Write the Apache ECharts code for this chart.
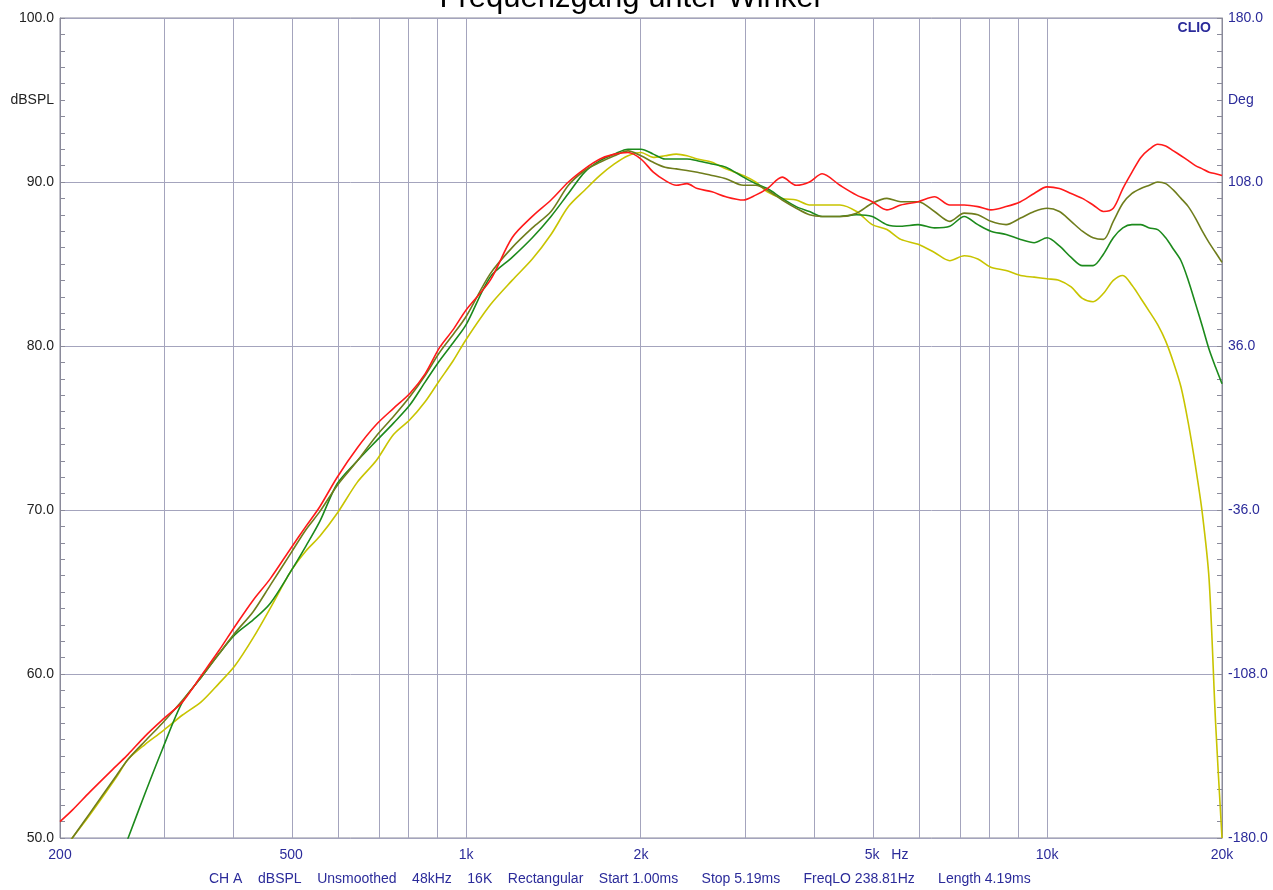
<!DOCTYPE html>
<html>
<head>
<meta charset="utf-8">
<script src="https://cdn.jsdelivr.net/npm/echarts@6/dist/echarts.min.js"></script>
<style>
  html, body { margin: 0; padding: 0; background: #fff; }
  #chart-container { width: 1273px; height: 890px; }
</style>
</head>
<body>
<div id="chart-container"></div>
<script>
// frequency grid (Hz) the curves were read at
const freqs = [200,210,225,250,262,280,300,325,350,375,
  400,430,460,500,530,560,600,650,700,750,
  800,850,900,950,1000,1100,1200,1300,1400,1500,
  1600,1700,1800,1900,2000,2100,2200,2300,2400,2500,
  2650,2800,3000,3150,3300,3500,3700,3900,4100,4400,
  4700,5000,5300,5600,6000,6400,6800,7200,7600,8000,
  8500,9000,9500,10000,10500,11000,11500,12000,12500,13000,
  13500,14000,14500,15000,15500,16000,16500,17000,17500,18000,
  18500,19000,19500,20000];

const redDb = [51.0,51.7,52.8,54.4,55.1,56.2,57.2,58.3,59.9,61.4,
  62.9,64.5,65.8,67.7,69.0,70.2,72.0,73.8,75.2,76.2,
  77.1,78.3,79.9,81.0,82.2,84.0,86.6,87.9,88.9,90.0,
  90.8,91.4,91.7,91.8,91.4,90.6,90.1,89.8,89.9,89.6,
  89.4,89.1,88.9,89.2,89.6,90.3,89.8,90.0,90.5,89.8,
  89.2,88.8,88.3,88.6,88.8,89.1,88.6,88.6,88.5,88.3,
  88.5,88.8,89.3,89.7,89.6,89.3,89.0,88.6,88.2,88.4,
  89.6,90.6,91.5,92.0,92.3,92.2,91.9,91.6,91.3,91.0,
  90.8,90.6,90.5,90.4];

const oliveDb = [49.0,50.0,51.5,53.8,54.8,55.9,57.0,58.4,59.8,61.2,
  62.5,63.8,65.4,67.4,68.8,69.9,71.5,73.0,74.5,75.7,
  76.9,78.2,79.6,80.7,81.8,84.4,86.0,87.2,88.2,89.8,
  90.7,91.2,91.6,91.9,91.6,91.2,90.9,90.8,90.7,90.6,
  90.4,90.2,89.8,89.8,89.5,88.9,88.4,88.0,87.9,87.9,
  88.1,88.7,89.0,88.8,88.8,88.2,87.6,88.1,88.0,87.6,
  87.4,87.8,88.2,88.4,88.2,87.6,87.0,86.6,86.5,87.6,
  88.7,89.3,89.6,89.8,90.0,89.9,89.5,89.0,88.5,87.8,
  87.0,86.3,85.7,85.1];

const greenDb = [null,null,null,48.1,50.0,52.7,55.4,58.3,59.8,61.2,
  62.4,63.3,64.3,66.3,67.8,69.3,71.6,73.0,74.2,75.3,
  76.4,77.8,79.1,80.2,81.3,84.2,85.4,86.6,87.9,89.3,
  90.6,91.3,91.7,92.0,92.0,91.7,91.4,91.4,91.4,91.3,
  91.1,90.9,90.3,89.9,89.6,89.0,88.5,88.2,87.9,87.9,
  88.0,87.9,87.4,87.3,87.4,87.2,87.3,87.9,87.4,87.0,
  86.8,86.5,86.3,86.6,86.1,85.4,84.9,84.9,85.6,86.6,
  87.2,87.4,87.4,87.2,87.1,86.6,85.9,85.2,84.0,82.6,
  81.2,79.8,78.7,77.7];

const yellowDb = [49.0,50.0,51.4,53.7,54.8,55.7,56.5,57.5,58.3,59.4,
  60.5,62.2,64.0,66.3,67.5,68.4,69.8,71.7,73.0,74.6,
  75.5,76.6,77.9,79.1,80.4,82.5,84.0,85.3,86.8,88.5,
  89.5,90.4,91.1,91.6,91.8,91.5,91.6,91.7,91.6,91.4,
  91.2,90.8,90.4,90.0,89.4,89.0,88.9,88.6,88.6,88.6,
  88.2,87.4,87.1,86.5,86.2,85.7,85.2,85.5,85.3,84.8,
  84.6,84.3,84.2,84.1,84.0,83.6,82.9,82.7,83.2,84.0,
  84.3,83.7,82.9,82.1,81.3,80.3,79.0,77.5,75.3,72.7,
  69.8,65.8,57.0,50.0];

// axis ticks / labels
const xLabelFreqs = [200, 500, 1000, 2000, 5000, 10000, 20000];
const xLabelTexts = ['200', '500', '1k', '2k', '5k', '10k', '20k'];
const gridFreqs = [300,400,500,600,700,800,900,1000,2000,3000,4000,5000,6000,7000,8000,9000,10000];
const leftLabelValues = [50, 60, 70, 80, 90, 95, 100];
const rightLabelValues = [-180, -108, -36, 36, 108, 144, 180];

const infoText = 'CH A    dBSPL    Unsmoothed    48kHz    16K    Rectangular    Start 1.00ms      Stop 5.19ms      FreqLO 238.81Hz      Length 4.19ms';

const blue = '#2b2b9a';
const gridColor = '#a4a4bd';
const font = '"Liberation Sans", Arial, sans-serif';

function toLog(f) {
  return Math.log10(f);
}

function buildSeries(name, color, values) {
  return {
    name,
    type: 'line',
    symbol: 'none',
    smooth: 0.3,
    lineStyle: { color, width: 1.6 },
    itemStyle: { color },
    data: freqs.map((f, i) => [toLog(f), values[i]]),
  };
}

let redSeries = buildSeries('Rot', '#ff1a1a', redDb);
redSeries.markLine = {
  silent: true,
  symbol: 'none',
  z: 1,
  label: { show: false },
  lineStyle: { color: gridColor, type: 'solid', width: 1 },
  data: gridFreqs.map((f) => ({ xAxis: toLog(f) })),
};

let series = [
  buildSeries('Gelb', '#c8c400', yellowDb),
  buildSeries('Grün', '#1c8a1c', greenDb),
  buildSeries('Oliv', '#6f7d1c', oliveDb),
  redSeries,
];

let option = {
  animation: false,
  backgroundColor: '#fff',
  textStyle: { fontFamily: font },
  grid: {
    left: 60,
    right: 51,
    top: 18,
    bottom: 52,
    show: true,
    borderColor: '#8a8a9a',
    borderWidth: 1,
  },
  xAxis: {
    type: 'value',
    min: toLog(200),
    max: toLog(20000),
    axisLine: { show: false },
    axisTick: { show: false },
    splitLine: { show: false },
    axisLabel: {
      customValues: xLabelFreqs.map(toLog),
      color: blue,
      fontSize: 14,
      margin: 10,
      formatter: (v) => {
        let i = xLabelFreqs.findIndex((f) => Math.abs(toLog(f) - v) < 1e-6);
        let t = i >= 0 ? xLabelTexts[i] : '';
        if (t === '5k') return '{pad|   Hz}5k{hz|   Hz}';
        return t;
      },
      rich: {
        pad: { color: 'rgba(0,0,0,0)', fontSize: 14, fontFamily: font },
        hz: { color: blue, fontSize: 14, fontFamily: font },
      },
    },
  },
  yAxis: [
    {
      type: 'value',
      min: 50,
      max: 100,
      interval: 10,
      axisLine: { show: true, lineStyle: { color: '#8a8a9a' } },
      axisTick: { show: true, inside: true, length: 5, lineStyle: { color: '#8a8a9a' } },
      minorTick: { show: true, splitNumber: 10, length: 5, lineStyle: { color: '#8a8a9a' } },
      splitLine: { show: true, lineStyle: { color: gridColor, width: 1 } },
      axisLabel: {
        customValues: leftLabelValues,
        color: '#222',
        fontSize: 14,
        margin: 6,
        formatter: (v) => (v === 95 ? 'dBSPL' : v.toFixed(1)),
      },
    },
    {
      // phase axis, shifted by +180 so ticks start at 0
      type: 'value',
      position: 'right',
      min: 0,
      max: 360,
      interval: 72,
      alignTicks: false,
      axisLine: { show: true, lineStyle: { color: '#8a8a9a' } },
      axisTick: { show: true, inside: true, length: 5, lineStyle: { color: '#8a8a9a' } },
      minorTick: { show: true, splitNumber: 10, length: 5, lineStyle: { color: '#8a8a9a' } },
      splitLine: { show: false },
      axisLabel: {
        customValues: rightLabelValues.map((d) => d + 180),
        color: blue,
        fontSize: 14,
        margin: 6,
        formatter: (v) => (v === 324 ? 'Deg' : (v - 180).toFixed(1)),
      },
    },
  ],
  graphic: [
    {
      type: 'text',
      x: 630,
      y: -17,
      style: {
        text: 'Frequenzgang unter Winkel',
        fontSize: 31,
        fontFamily: font,
        fill: '#000',
        align: 'center',
      },
    },
    {
      type: 'text',
      right: 62,
      top: 21,
      style: {
        text: 'CLIO',
        fontSize: 14,
        fontWeight: 'bold',
        fontFamily: font,
        fill: blue,
      },
    },
    {
      type: 'text',
      left: 209,
      top: 872,
      style: {
        text: infoText,
        fontSize: 14,
        fontFamily: font,
        fill: blue,
      },
    },
  ],
  series,
};

var myChart = echarts.init(document.getElementById('chart-container'));
myChart.setOption(option);
</script>
</body>
</html>
